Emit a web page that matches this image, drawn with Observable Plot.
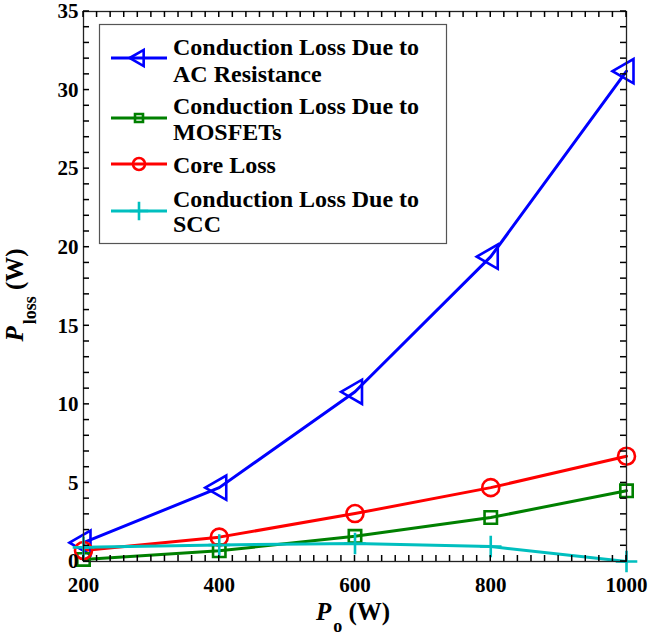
<!DOCTYPE html>
<html><head><meta charset="utf-8">
<script src="https://cdn.jsdelivr.net/npm/d3@7"></script>
<script src="https://cdn.jsdelivr.net/npm/@observablehq/plot@0.6"></script>
<style>body{margin:0;background:#fff} svg{display:block}</style>
</head><body><div id="chart"></div>
<script>
const powerOut = [200, 400, 600, 800, 1000];
const acResistanceLoss = [1.2, 4.7, 10.8, 19.4, 31.2];
const mosfetLoss = [0.13, 0.68, 1.6, 2.8, 4.5];
const coreLoss = [0.7, 1.55, 3.05, 4.7, 6.7];
const sccLoss = [0.9, 1.05, 1.15, 0.95, 0.0];
const seriesNames = [
  ["Conduction Loss Due to", "AC Resistance"],
  ["Conduction Loss Due to", "MOSFETs"],
  ["Core Loss"],
  ["Conduction Loss Due to", "SCC"]
];
const xTicks = [200, 400, 600, 800, 1000];
const yTicks = [0, 5, 10, 15, 20, 25, 30, 35];

const seriesValues = [acResistanceLoss, mosfetLoss, coreLoss, sccLoss];
const colors = ["#0000ff", "#008000", "#ff0000", "#00bfbf"];
const symbols = ["triangle", "square", "circle", "plus"];
const radii = [9, 7, 8.5, 7];
const rotates = [-90, 0, 0, 0];

const series = seriesValues.map((vals, i) =>
  powerOut.map((p, j) => ({p, v: vals[j], s: i})));

const W = 652, H = 637;
const mL = 83, mR = 26, mT = 11, mB = 76;
const xDomain = [200, 1000], yDomain = [0, 35];
const xMinor = d3.range(200, 1001, 20);
const yMinor = d3.range(0, 36, 1);
const tickLen = 6;

const marks = [];
series.forEach((d, i) => {
  marks.push(Plot.line(d, {x: "p", y: "v", stroke: colors[i], strokeWidth: 3}));
});
series.forEach((d, i) => {
  marks.push(Plot.dot(d, {x: "p", y: "v", stroke: colors[i], fill: "none", symbol: symbols[i],
    r: radii[i], rotate: rotates[i], strokeWidth: 2.6}));
});
marks.push(
  Plot.frame({stroke: "#222", strokeWidth: 1.3}),
  Plot.axisX({anchor: "bottom", ticks: xTicks, tickSize: 0, tickPadding: 16, tickFormat: d => String(d), label: null, fontSize: 21, fill: "#000"}),
  Plot.axisY({anchor: "left", ticks: yTicks, tickSize: 0, tickPadding: 5, tickFormat: d => String(d), label: null, fontSize: 21, fill: "#000"})
);

const svg = Plot.plot({
  width: W, height: H,
  marginLeft: mL, marginRight: mR, marginTop: mT, marginBottom: mB,
  style: {fontFamily: "'Liberation Serif', 'Times New Roman', serif", fontWeight: "bold", fontSize: "21px", color: "#000", background: "#fff"},
  x: {domain: xDomain, label: null},
  y: {domain: yDomain, label: null},
  marks
});

const root = d3.select(svg);
const font = "'Liberation Serif', 'Times New Roman', serif";
const sx = v => svg.scale("x").apply(v);
const sy = v => svg.scale("y").apply(v);

// inward ticks on all four sides, positioned through Plot's scales
const tk = root.append("g").attr("stroke", "#000").attr("stroke-width", 1.5);
xMinor.forEach(v => {
  const x = sx(v);
  tk.append("line").attr("x1", x).attr("x2", x).attr("y1", sy(yDomain[0])).attr("y2", sy(yDomain[0]) - tickLen);
  tk.append("line").attr("x1", x).attr("x2", x).attr("y1", sy(yDomain[1])).attr("y2", sy(yDomain[1]) + tickLen);
});
yMinor.forEach(v => {
  const y = sy(v);
  tk.append("line").attr("y1", y).attr("y2", y).attr("x1", sx(xDomain[0])).attr("x2", sx(xDomain[0]) + tickLen);
  tk.append("line").attr("y1", y).attr("y2", y).attr("x1", sx(xDomain[1])).attr("x2", sx(xDomain[1]) - tickLen);
});

// axis titles
const xl = root.append("text").attr("x", 353).attr("y", 620).attr("text-anchor", "middle")
  .attr("font-family", font).attr("font-weight", "bold").attr("font-size", 25).attr("fill", "#000");
xl.append("tspan").attr("font-style", "italic").text("P");
xl.append("tspan").attr("font-size", 18).attr("dy", 12).attr("dx", 2).text("o");
xl.append("tspan").attr("dy", -12).text(" (W)");

const yl = root.append("text").attr("transform", "translate(23,295) rotate(-90)").attr("text-anchor", "middle")
  .attr("font-family", font).attr("font-weight", "bold").attr("font-size", 25).attr("fill", "#000");
yl.append("tspan").attr("font-style", "italic").text("P");
yl.append("tspan").attr("font-size", 18).attr("dy", 13).attr("dx", 2).text("loss");
yl.append("tspan").attr("dy", -13).text(" (W)");

// legend
const lg = root.append("g").attr("text-anchor", "start");
lg.append("rect").attr("x", 99.5).attr("y", 24.5).attr("width", 347).attr("height", 219)
  .attr("fill", "#fff").attr("stroke", "#555").attr("stroke-width", 1.2);
const baselines = [[55, 82], [114, 140], [173], [207, 232]];
const sampleY = [58, 118, 164, 211];
const symMap = {triangle: d3.symbolTriangle, square: d3.symbolSquare, circle: d3.symbolCircle, plus: d3.symbolPlus};
const legR = [6, 4.5, 6, 6];
const legRot = [-90, 0, 0, 0];
seriesNames.forEach((lines, i) => {
  const g = lg.append("g");
  g.append("line").attr("x1", 111).attr("x2", 167).attr("y1", sampleY[i]).attr("y2", sampleY[i])
    .attr("stroke", colors[i]).attr("stroke-width", 3);
  g.append("path").attr("d", d3.symbol(symMap[symbols[i]], Math.PI * legR[i] * legR[i])())
    .attr("transform", `translate(139,${sampleY[i]}) rotate(${legRot[i]})`)
    .attr("fill", "none").attr("stroke", colors[i]).attr("stroke-width", 2.6);
  lines.forEach((t, k) => {
    g.append("text").attr("x", 173).attr("y", baselines[i][k]).attr("text-anchor", "start")
      .attr("font-family", font).attr("font-weight", "bold").attr("font-size", 24).attr("fill", "#000").text(t);
  });
});

document.getElementById("chart").appendChild(svg);
</script>
</body></html>
